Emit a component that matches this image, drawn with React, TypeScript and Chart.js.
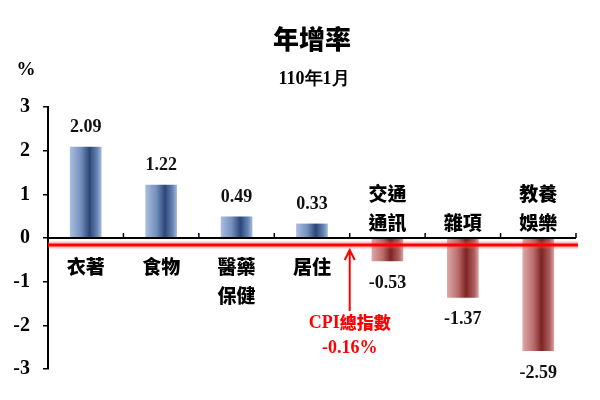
import { useEffect, useRef } from 'react';
import { Chart, registerables } from 'chart.js';

Chart.register(...registerables);

const categories = [['衣著'], ['食物'], ['醫藥', '保健'], ['居住'], ['交通', '通訊'], ['雜項'], ['教養', '娛樂']];
const yearGrowth = [2.09, 1.22, 0.49, 0.33, -0.53, -1.37, -2.59];
const cpiTotal = -0.16;
const yRange = [-3, 3];

const SERIF = "'Liberation Serif', 'Times New Roman', serif";
const CJK = "'Noto Sans CJK TC', 'Noto Sans CJK SC', sans-serif";
const BAR_PCT = 0.42;

function barGradient(ctx: any) {
  const chart = ctx.chart;
  const xs = chart.scales?.x;
  const v = yearGrowth[ctx.dataIndex];
  const pos = v >= 0;
  if (!chart.chartArea || !xs || ctx.type !== 'data') return pos ? '#4f6fa0' : '#a44a4a';
  const cx = xs.getPixelForValue(ctx.dataIndex);
  const hw = (xs.width / categories.length) * BAR_PCT / 2;
  const g = chart.ctx.createLinearGradient(cx - hw, 0, cx + hw, 0);
  if (pos) {
    g.addColorStop(0, '#aabee0');
    g.addColorStop(0.35, '#7490bd');
    g.addColorStop(0.62, '#2b4777');
    g.addColorStop(0.86, '#6684b3');
    g.addColorStop(1, '#a6bbdd');
  } else {
    g.addColorStop(0, '#dfa8a8');
    g.addColorStop(0.35, '#b96c6c');
    g.addColorStop(0.6, '#7e2424');
    g.addColorStop(0.86, '#ad5e5e');
    g.addColorStop(1, '#dca5a5');
  }
  return g;
}

const overlay = {
  id: 'overlay',
  afterDatasetsDraw(chart: any) {
    const { ctx, scales: { x, y }, chartArea } = chart;
    const y0 = y.getPixelForValue(0);
    const left = chartArea.left;
    const right = chartArea.right;
    ctx.save();

    // zero axis with upward ticks at category boundaries
    ctx.strokeStyle = '#000';
    ctx.lineWidth = 2;
    ctx.beginPath();
    ctx.moveTo(left, y0);
    ctx.lineTo(right, y0);
    ctx.stroke();
    ctx.lineWidth = 1.5;
    const step = (right - left) / categories.length;
    for (let i = 1; i <= categories.length; i++) {
      const bx = left + step * i;
      ctx.beginPath();
      ctx.moveTo(bx, y0);
      ctx.lineTo(bx, y0 - 5);
      ctx.stroke();
    }

    // CPI line
    const yc = y.getPixelForValue(cpiTotal);
    ctx.strokeStyle = 'rgba(255,80,80,0.35)';
    ctx.lineWidth = 7;
    ctx.beginPath();
    ctx.moveTo(left, yc);
    ctx.lineTo(right + 2, yc);
    ctx.stroke();
    ctx.strokeStyle = '#ff0000';
    ctx.lineWidth = 3;
    ctx.beginPath();
    ctx.moveTo(left, yc);
    ctx.lineTo(right + 2, yc);
    ctx.stroke();

    // value labels
    const meta = chart.getDatasetMeta(0);
    ctx.fillStyle = '#111';
    ctx.font = `bold 18px ${SERIF}`;
    ctx.textAlign = 'center';
    ctx.textBaseline = 'middle';
    meta.data.forEach((bar: any, i: number) => {
      const v = yearGrowth[i];
      const ty = v >= 0 ? bar.y - 19 : bar.y + 22;
      ctx.fillText(v.toFixed(2), bar.x, ty);
    });

    // category labels
    ctx.fillStyle = '#000';
    ctx.font = `900 19px ${CJK}`;
    categories.forEach((lines, i) => {
      const cx = x.getPixelForValue(i);
      if (yearGrowth[i] >= 0) {
        lines.forEach((t, k) => ctx.fillText(t, cx, y0 + 29 + k * 29));
      } else {
        const n = lines.length;
        lines.forEach((t, k) => ctx.fillText(t, cx, y0 - 15 - (n - 1 - k) * 29));
      }
    });

    // arrow to CPI line
    const ax = (x.getPixelForValue(3) + x.getPixelForValue(4)) / 2;
    ctx.strokeStyle = '#ff0000';
    ctx.lineWidth = 2;
    ctx.beginPath();
    ctx.moveTo(ax, yc + 5);
    ctx.lineTo(ax, yc + 66);
    ctx.moveTo(ax - 5, yc + 15);
    ctx.lineTo(ax, yc + 5);
    ctx.lineTo(ax + 5, yc + 15);
    ctx.stroke();

    ctx.fillStyle = '#ff0000';
    const l1a = 'CPI';
    const l1b = '總指數';
    ctx.font = `bold 18px ${SERIF}`;
    const wa = ctx.measureText(l1a).width;
    ctx.font = `900 17px ${CJK}`;
    const wb = ctx.measureText(l1b).width;
    const sx = ax - (wa + wb) / 2;
    ctx.textAlign = 'left';
    ctx.font = `bold 18px ${SERIF}`;
    ctx.fillText(l1a, sx, yc + 78);
    ctx.font = `900 17px ${CJK}`;
    ctx.fillText(l1b, sx + wa, yc + 78);
    ctx.textAlign = 'center';
    ctx.font = `bold 18px ${SERIF}`;
    ctx.fillText(`${cpiTotal.toFixed(2)}%`, ax, yc + 103);

    // titles
    ctx.fillStyle = '#000';
    ctx.font = `900 26px ${CJK}`;
    ctx.fillText('年增率', 312, 39);
    ctx.font = `bold 18px ${SERIF}`;
    ctx.fillText('110年1月', 314, 79);
    ctx.font = `bold 19px ${SERIF}`;
    ctx.fillText('%', 26, 70);

    ctx.restore();
  },
};

export default function App() {
  const canvasRef = useRef<HTMLCanvasElement>(null);
  const chartRef = useRef<Chart<'bar'> | null>(null);

  useEffect(() => {
    document.body.style.margin = '0';
    if (!canvasRef.current) return;

    chartRef.current = new Chart(canvasRef.current, {
      type: 'bar',
      data: {
        labels: categories,
        datasets: [{
          data: yearGrowth,
          backgroundColor: barGradient,
          borderWidth: 0,
          barPercentage: BAR_PCT,
          categoryPercentage: 1,
        }],
      },
      options: {
        responsive: true,
        maintainAspectRatio: false,
        animation: false,
        layout: { padding: { left: 0, right: 24, top: 107, bottom: 31 } },
        plugins: {
          legend: { display: false },
          tooltip: { enabled: false },
        },
        scales: {
          x: { display: false },
          y: {
            min: yRange[0],
            max: yRange[1],
            afterFit: (scale: any) => { scale.width = 48; },
            ticks: {
              stepSize: 1,
              color: '#000',
              padding: 13,
              font: { family: SERIF, size: 20, weight: 'bold' },
            },
            grid: {
              drawOnChartArea: false,
              drawTicks: true,
              tickLength: 5,
              color: '#000',
              lineWidth: 1.5,
            },
            border: { display: true, color: '#000', width: 2 },
          },
        },
      },
      plugins: [overlay],
    });

    return () => {
      chartRef.current?.destroy();
      chartRef.current = null;
    };
  }, []);

  return (
    <div style={{ width: 600, height: 400, position: 'relative', background: '#fff' }}>
      <canvas ref={canvasRef} />
    </div>
  );
}
